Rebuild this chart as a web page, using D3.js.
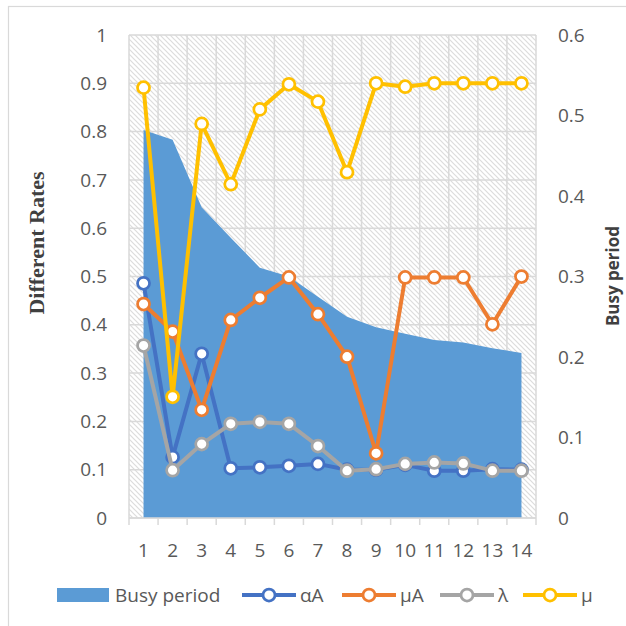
<!DOCTYPE html>
<html><head><meta charset="utf-8">
<script src="https://cdn.jsdelivr.net/npm/d3@7"></script>
<style>html,body{margin:0;padding:0;background:#fff;}svg{display:block;}</style>
</head><body>
<script>
const categories = [1,2,3,4,5,6,7,8,9,10,11,12,13,14];
const busyPeriod = [0.482,0.470,0.386,0.348,0.311,0.300,0.275,0.250,0.237,0.229,0.221,0.218,0.211,0.205];
const alphaA = [0.486,0.126,0.340,0.103,0.105,0.108,0.112,0.100,0.100,0.110,0.098,0.098,0.101,0.100];
const muA = [0.443,0.386,0.224,0.410,0.456,0.498,0.422,0.334,0.134,0.498,0.498,0.498,0.401,0.500];
const lambda = [0.357,0.099,0.153,0.195,0.199,0.195,0.149,0.098,0.101,0.112,0.115,0.113,0.098,0.098];
const mu = [0.891,0.251,0.816,0.691,0.846,0.898,0.862,0.716,0.900,0.893,0.900,0.900,0.900,0.900];
const leftTicks = [0,0.1,0.2,0.3,0.4,0.5,0.6,0.7,0.8,0.9,1];
const rightTicks = [0,0.1,0.2,0.3,0.4,0.5,0.6];
const seriesNames = ["αA","μA","λ","μ"];
const seriesColors = ["#4472C4","#ED7D31","#A5A5A5","#FFC000"];
const seriesData = [alphaA, muA, lambda, mu];

const W = 626, H = 626;
const L = 129, R = 536, T = 35, B = 518;
const font = "'Open Sans', sans-serif";
const textCol = "#595959";

const svg = d3.select("body").append("svg").attr("width", W).attr("height", H);
svg.append("rect").attr("width", W).attr("height", H).attr("fill", "#fff");
svg.append("rect").attr("x", 8.5).attr("y", 6.5).attr("width", 700).attr("height", 700)
  .attr("fill", "none").attr("stroke", "#d9d9d9").attr("stroke-width", 1.2);

const defs = svg.append("defs");
const pat = defs.append("pattern").attr("id", "hatch").attr("patternUnits", "userSpaceOnUse")
  .attr("width", 5).attr("height", 5);
pat.append("rect").attr("width", 5).attr("height", 5).attr("fill", "#fff");
pat.append("path").attr("d", "M0,0 L5,5 M-1,4 L1,6 M4,-1 L6,1")
  .attr("stroke", "#dcdcdc").attr("stroke-width", 1.2);

const x = d3.scaleBand().domain(categories).range([L, R]).padding(0);
const xc = d => x(d) + x.bandwidth() / 2;
const yL = d3.scaleLinear().domain([0, 1]).range([B, T]);
const yR = d3.scaleLinear().domain([0, 0.6]).range([B, T]);

svg.append("rect").attr("x", L).attr("y", T).attr("width", R - L).attr("height", B - T).attr("fill", "url(#hatch)");

// gridlines
const grid = svg.append("g").attr("stroke", "#d9d9d9").attr("stroke-width", 1.5);
leftTicks.forEach(t => {
  grid.append("line").attr("x1", L).attr("x2", R).attr("y1", yL(t)).attr("y2", yL(t));
});
const bounds = categories.map(c => x(c)).concat([R]);
bounds.forEach(b => {
  grid.append("line").attr("x1", b).attr("x2", b).attr("y1", T).attr("y2", B);
});

// area
const area = d3.area().x((d, i) => xc(categories[i])).y0(yR(0)).y1(d => yR(d));
svg.append("path").datum(busyPeriod).attr("d", area).attr("fill", "#5B9BD5");

// bottom axis
const ax = svg.append("g").attr("stroke", "#d9d9d9").attr("stroke-width", 1.5);
ax.append("line").attr("x1", L).attr("x2", R).attr("y1", B).attr("y2", B);
bounds.forEach(b => {
  ax.append("line").attr("x1", b).attr("x2", b).attr("y1", B).attr("y2", B + 7);
});

// lines
const line = d3.line().x((d, i) => xc(categories[i])).y(d => yL(d));
seriesData.forEach((data, k) => {
  const g = svg.append("g");
  g.append("path").datum(data).attr("d", line).attr("fill", "none")
    .attr("stroke", seriesColors[k]).attr("stroke-width", 4).attr("stroke-linejoin", "round");
  g.selectAll("circle").data(data).join("circle")
    .attr("cx", (d, i) => xc(categories[i])).attr("cy", d => yL(d)).attr("r", 6)
    .attr("fill", "#fff").attr("stroke", seriesColors[k]).attr("stroke-width", 2.75);
});

// tick labels
svg.append("g").selectAll("text").data(leftTicks).join("text")
  .attr("x", 107).attr("y", d => yL(d)).attr("dy", "0.35em").attr("text-anchor", "end")
  .attr("font-family", font).attr("font-size", 19).attr("fill", textCol)
  .text(d => d3.format("")(d));
svg.append("g").selectAll("text").data(rightTicks).join("text")
  .attr("x", 558).attr("y", d => yR(d)).attr("dy", "0.35em").attr("text-anchor", "start")
  .attr("font-family", font).attr("font-size", 19).attr("fill", textCol)
  .text(d => d3.format("")(d));
svg.append("g").selectAll("text").data(categories).join("text")
  .attr("x", d => xc(d)).attr("y", 550).attr("dy", "0.35em").attr("text-anchor", "middle")
  .attr("font-family", font).attr("font-size", 19).attr("fill", textCol)
  .text(d => d);

// axis titles
svg.append("text").attr("transform", "translate(44,243) rotate(-90)").attr("text-anchor", "middle")
  .attr("font-family", "'Liberation Serif', serif").attr("font-weight", "bold").attr("font-size", 22)
  .attr("fill", "#404040").text("Different Rates");
svg.append("text").attr("transform", "translate(619,276) rotate(-90)").attr("text-anchor", "middle")
  .attr("font-family", font).attr("font-weight", "bold").attr("font-size", 17)
  .attr("fill", "#404040").text("Busy period");

// legend
const ly = 595;
const leg = svg.append("g");
leg.append("rect").attr("x", 57).attr("y", ly - 7).attr("width", 52).attr("height", 14).attr("fill", "#5B9BD5");
leg.append("text").attr("x", 115).attr("y", ly).attr("dy", "0.35em").attr("font-family", font)
  .attr("font-size", 19).attr("fill", textCol).text("Busy period");
const legX = [242, 342, 440, 523];
seriesNames.forEach((n, k) => {
  const x0 = legX[k];
  leg.append("line").attr("x1", x0).attr("x2", x0 + 54).attr("y1", ly).attr("y2", ly)
    .attr("stroke", seriesColors[k]).attr("stroke-width", 4);
  leg.append("circle").attr("cx", x0 + 27).attr("cy", ly).attr("r", 6).attr("fill", "#fff")
    .attr("stroke", seriesColors[k]).attr("stroke-width", 2.75);
  leg.append("text").attr("x", x0 + 58).attr("y", ly).attr("dy", "0.35em").attr("font-family", font)
    .attr("font-size", 19).attr("fill", textCol).text(n);
});
</script>
</body></html>
